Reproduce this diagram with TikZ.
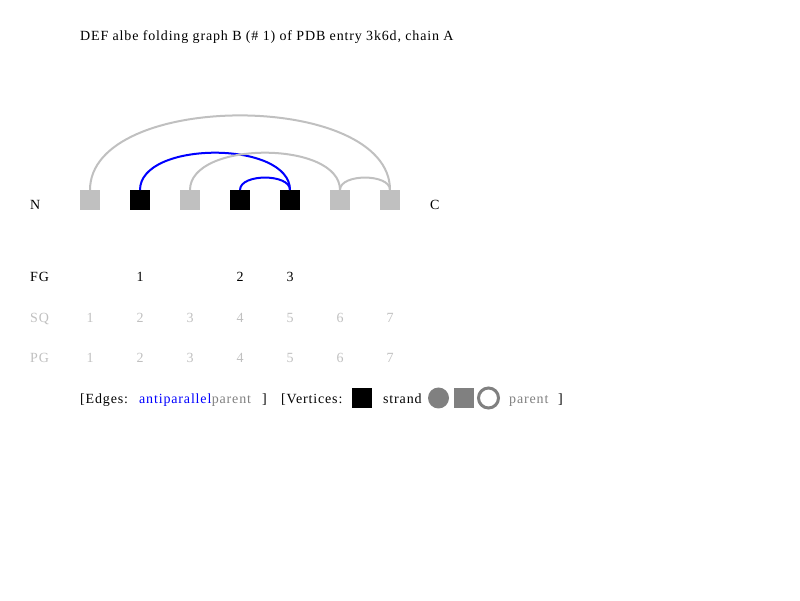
\documentclass[tikz,border=0pt]{standalone}
\usepackage{fontspec}
\setmainfont[LetterSpace=6]{Liberation Serif}
\usepackage{tikz}
\definecolor{sse}{HTML}{C0C0C0}
\definecolor{legendgray}{HTML}{808080}
\definecolor{apblue}{HTML}{0000FF}
\newcommand{\defaultvertexsize}{20pt}
\newcommand{\vertexsize}{\defaultvertexsize}
\tikzstyle{vertex}=[inner sep=0, outer sep=0, minimum size=\vertexsize]
\tikzstyle{strandv}=[vertex, fill=black]
\tikzstyle{otherv}=[vertex, fill=sse]
\tikzstyle{edge}=[line width=2pt, looseness=0.85, out=90, in=90]
\tikzstyle{apedge}=[edge, draw=apblue]
\tikzstyle{pedge}=[edge, draw=sse]
\tikzstyle{txt}=[inner sep=0, anchor=base west]
\tikzstyle{num}=[inner sep=0, anchor=base]
\tikzstyle{foldgraph}=[x=1pt, y=1pt,
                       % Default font for all texts.
                       every node/.style={font=\fontsize{14}{16}\selectfont}]

\begin{document}
\begin{tikzpicture}[foldgraph]
        \useasboundingbox (0, 0) rectangle (800, 600);
        \node[txt] (title) at (80, 559) {DEF albe folding graph B (\# 1) of PDB entry 3k6d, chain A};
        \node[otherv]  (v1) at (90, 400) {};
        \node[strandv] (v2) at (140, 400) {};
        \node[otherv]  (v3) at (190, 400) {};
        \node[strandv] (v4) at (240, 400) {};
        \node[strandv] (v5) at (290, 400) {};
        \node[otherv]  (v6) at (340, 400) {};
        \node[otherv]  (v7) at (390, 400) {};
        \node[txt] (N) at (30, 390) {N};
        \node[txt] (C) at (430, 390) {C};
        \draw[pedge]  (v1.north) to (v7.north);
        \draw[apedge] (v2.north) to (v5.north);
        \draw[pedge]  (v3.north) to (v6.north);
        \draw[apedge] (v4.north) to (v5.north);
        \draw[pedge]  (v6.north) to (v7.north);
        % Index rows.
        \node[txt] (FG) at (30, 318) {FG};
        \node[num] (fg1) at (140, 318) {1};
        \node[num] (fg2) at (240, 318) {2};
        \node[num] (fg3) at (290, 318) {3};
        \node[txt, text=sse] (SQ) at (30, 277) {SQ};
        \node[txt, text=sse] (PG) at (30, 237) {PG};
        \foreach \i in {1, ..., 7} {
            \node[num, text=sse] (sq\i) at (40 + 50*\i, 277) {\i};
            \node[num, text=sse] (pg\i) at (40 + 50*\i, 237) {\i};
        }
        % Legend.
        \node[txt] (edges) at (80, 196) {[Edges:};
        \node[txt, text=apblue] (antip) at (139, 196) {antiparallel};
        \node[txt, text=legendgray] (eparent) at (antip.base east) {parent};
        \node[txt] (eclose) at (262, 196) {]};
        \node[txt] (vertices) at (281, 196) {[Vertices:};
        \node[strandv] (lstrand) at (362, 202) {};
        \node[txt] (strand) at (383, 196) {strand};
        \node[vertex, circle, fill=legendgray, minimum size=21pt] (lcirc) at (438.5, 202) {};
        \node[vertex, fill=legendgray] (lsq) at (464, 202) {};
        \node[vertex, circle, draw=legendgray, line width=3pt] (lring) at (488.5, 202) {};
        \node[txt, text=legendgray] (vparent) at (509, 196) {parent};
        \node[txt] (vclose) at (558, 196) {]};
    \end{tikzpicture}
\end{document}
